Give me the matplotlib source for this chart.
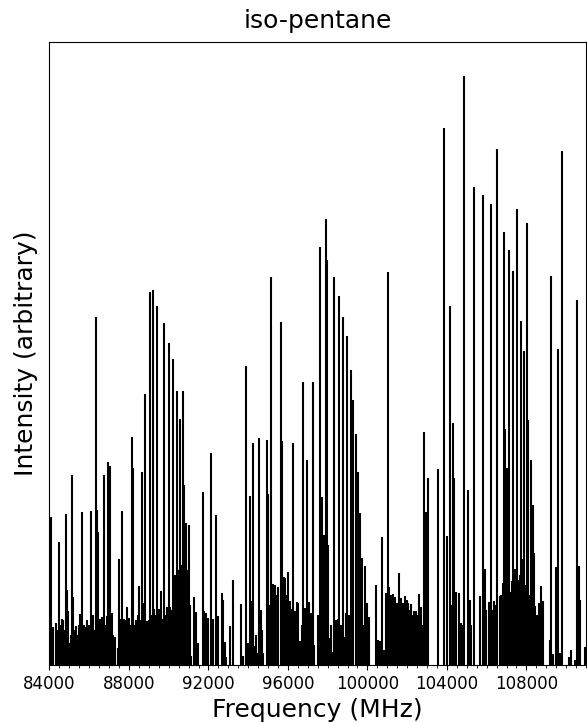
import matplotlib
matplotlib.use("Agg")
import matplotlib.pyplot as plt
from matplotlib.ticker import MultipleLocator

# line positions (MHz) and heights (arbitrary units)
freq_mhz = [
    84090, 84200, 84330, 84460, 84610, 84700, 84820, 84870, 84950, 85030,
    85120, 85180, 85330, 85490, 85560, 85620, 85740, 85890, 86100, 86190,
    86340, 86390, 86460, 86540, 86640, 86760, 86890, 86930, 87000, 87050,
    87150, 87220, 87450, 87480, 87600, 87630, 87750, 87880, 87980, 88170,
    88200, 88350, 88450, 88500, 88670, 88780, 88810, 88930, 89060, 89190,
    89260, 89430, 89490, 89610, 89690, 89760, 89910, 90010, 90090, 90230,
    90340, 90430, 90520, 90570, 90640, 90700, 90780, 90850, 90890, 90950,
    91020, 91070, 91120, 91290, 91390, 91470, 91730, 91800, 91900, 92000,
    92130, 92230, 92370, 92480, 92670, 92730, 92810, 92880, 93060, 93220,
    93620, 93760, 93890, 93990, 94090, 94160, 94210, 94260, 94340, 94440,
    94560, 94650, 94750, 94930, 95010, 95130, 95250, 95350, 95500, 95640,
    95720, 95780, 95850, 96020, 96100, 96210, 96260, 96360, 96460, 96530,
    96610, 96770, 96860, 96950, 97060, 97160, 97250, 97630, 97730, 97790,
    97900, 97980, 98040, 98120, 98220, 98300, 98420, 98520, 98570, 98720,
    98790, 98850, 98920, 98990, 99160, 99290, 99410, 99510, 99630, 99710,
    99890, 99980, 100080, 100420, 100530, 100630, 100740, 100840, 100940, 101050,
    101110, 101190, 101290, 101390, 101490, 101610, 101690, 101790, 101870, 101970,
    102040, 102190, 102320, 102450, 102620, 102720, 102860, 102930, 103050, 103570,
    103860, 104020, 104140, 104290, 104370, 104460, 104590, 104710, 104860, 105060,
    105140, 105370, 105670, 105800, 105920, 106100, 106220, 106370, 106540, 106670,
    106800, 106860, 106930, 107010, 107110, 107180, 107280, 107340, 107440, 107540,
    107630, 107720, 107820, 107870, 108020, 108080, 108220, 108320, 108390, 108450,
    108610, 108720, 108840, 109190, 109260, 109340, 109480, 109580, 109690, 109790,
    110150, 110220, 110450, 110530, 110650, 110720, 110950,
]
intensity = [
    148, 38, 42, 123, 46, 45, 151, 75, 54, 22,
    190, 68, 39, 40, 51, 153, 40, 45, 154, 50,
    348, 155, 133, 46, 48, 190, 49, 203, 58, 199,
    52, 30, 17, 106, 46, 154, 46, 58, 47, 228,
    197, 45, 50, 79, 193, 62, 271, 44, 373, 375,
    56, 359, 56, 74, 46, 342, 58, 322, 58, 306,
    90, 274, 95, 246, 100, 274, 180, 100, 142, 95,
    140, 60, 9, 68, 53, 22, 173, 54, 52, 47,
    212, 46, 150, 49, 72, 65, 23, 8, 39, 85,
    61, 9, 299, 22, 169, 64, 19, 222, 19, 12,
    227, 55, 12, 225, 171, 388, 81, 80, 78, 343,
    224, 88, 87, 93, 64, 56, 222, 54, 63, 62,
    24, 283, 57, 205, 63, 52, 283, 418, 168, 130,
    446, 405, 120, 27, 13, 388, 45, 46, 369, 30,
    348, 28, 52, 329, 295, 265, 231, 193, 152, 107,
    99, 62, 48, 80, 25, 24, 128, 15, 72, 393,
    78, 70, 71, 68, 62, 92, 67, 62, 69, 65,
    62, 61, 54, 54, 71, 58, 233, 153, 187, 196,
    537, 129, 359, 242, 187, 73, 72, 42, 589, 175,
    65, 478, 69, 470, 96, 63, 461, 64, 516, 69,
    82, 433, 236, 197, 415, 73, 84, 394, 96, 456,
    85, 344, 106, 314, 442, 245, 205, 160, 112, 59,
    62, 79, 64, 25, 389, 11, 98, 316, 12, 514,
    8, 15, 5, 365, 99, 65, 18,
]

# weak lines filling the baseline
weak_freq = [
    84150, 84400, 84540, 84760, 85080, 85260, 85420, 85680, 85820, 85980,
    86260, 86600, 86820, 87100, 87300, 87540, 87700, 87820, 88060, 88280,
    88580, 88880, 89000, 89120, 89340, 89550, 89840, 90160, 90300, 90480,
    94400, 94700, 95050, 95420, 95930, 96150, 96700, 97000, 97320, 97500,
    98150, 98650, 99050, 99220, 99800, 101000, 101550, 101920, 102100, 102250,
    102550, 102780, 104200, 104780, 105230, 105980, 106300, 106460, 106740, 107070,
    107390, 107680, 107940, 108150, 108520, 108780,
]
weak_int = [
    30, 35, 40, 35, 30, 35, 30, 35, 38, 40,
    35, 40, 40, 40, 28, 35, 40, 45, 40, 40,
    45, 40, 45, 50, 50, 50, 50, 55, 80, 90,
    30, 35, 60, 70, 70, 50, 40, 50, 20, 50,
    40, 40, 50, 40, 40, 60, 60, 55, 55, 50,
    50, 40, 60, 40, 40, 55, 55, 60, 70, 80,
    85, 90, 80, 70, 50, 50,
]

x_range = (84000, 111000)
y_top = 623
tick_values = [84000, 88000, 92000, 96000, 100000, 104000, 108000]

fig = plt.figure(figsize=(5.87, 7.22), dpi=100)
ax = fig.add_axes([0.0843, 0.0789, 0.914, 0.8629])

ax.vlines(weak_freq, 0, weak_int, color="black", linewidth=1.5)
ax.vlines(freq_mhz, 0, intensity, color="black", linewidth=1.5)

ax.set_xlim(*x_range)
ax.set_ylim(0, y_top)
ax.set_xticks(tick_values)
ax.set_xticklabels([str(t) for t in tick_values], fontsize=12)
ax.xaxis.set_minor_locator(MultipleLocator(500))
ax.set_yticks([])

ax.set_xlabel("Frequency (MHz)", fontsize=18)
ax.set_ylabel("Intensity (arbitrary)", fontsize=18, labelpad=8)
ax.set_title("iso-pentane", fontsize=18, pad=10)

fig.savefig("out.png", dpi=100)
